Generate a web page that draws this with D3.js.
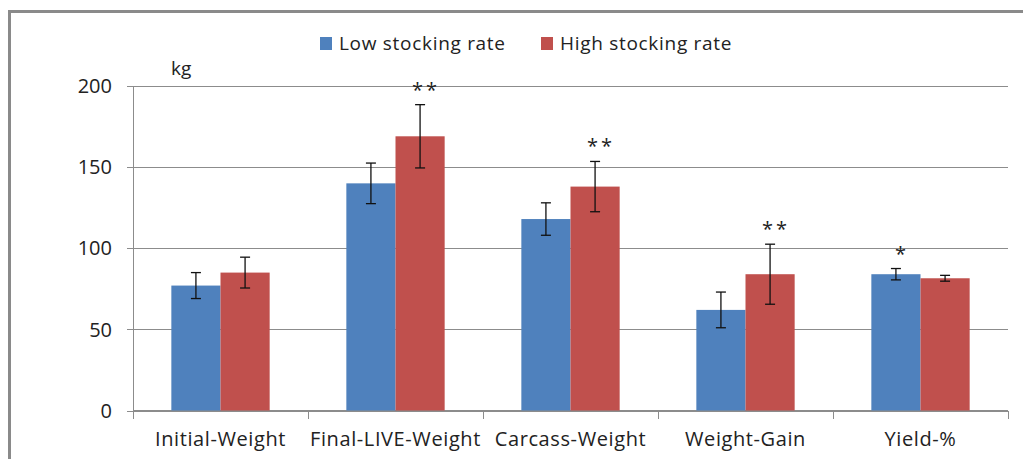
<!DOCTYPE html>
<html>
<head>
<meta charset="utf-8">
<script src="https://cdn.jsdelivr.net/npm/d3@7"></script>
<style>
  html, body { margin: 0; padding: 0; background: #fff; }
  svg { display: block; font-family: "Open Sans", "Liberation Sans", sans-serif; }
</style>
</head>
<body>
<svg id="chart" width="1023" height="459"></svg>
<script>
// Carcass traits under two stocking rates (means ± SD)
const categories = ["Initial-Weight", "Final-LIVE-Weight", "Carcass-Weight", "Weight-Gain", "Yield-%"];
const seriesNames = ["Low stocking rate", "High stocking rate"];
const lowValues  = [77, 140, 118, 62, 84];
const lowErrors  = [8, 12.5, 10, 11, 3.5];
const highValues = [85, 169, 138, 84, 81.5];
const highErrors = [9.5, 19.5, 15.5, 18.5, 1.8];
// significance marks: [category index, series index, label]
const marks = [[1, 1, "**"], [2, 1, "**"], [3, 1, "**"], [4, 0, "*"]];
const yTicks = [0, 50, 100, 150, 200];
const yUnit = "kg";

const colors = ["#4F81BD", "#C0504D"];
const svg = d3.select("#chart");

const margin = { left: 133, right: 1008, top: 86, bottom: 410.5 };

// outer frame
svg.append("rect")
  .attr("x", 9.5).attr("y", 11.5)
  .attr("width", 1100).attr("height", 600)
  .attr("fill", "#fff").attr("stroke", "#8a8a8a").attr("stroke-width", 3);

const x = d3.scaleBand().domain(categories).range([margin.left, margin.right]).paddingInner(0).paddingOuter(0);
const xInner = d3.scaleBand().domain([0, 1]).range([0, x.bandwidth()]).paddingInner(0).paddingOuter(0.78);
const y = d3.scaleLinear().domain([0, 200]).range([margin.bottom, margin.top]);

// horizontal gridlines
const yAxis = d3.axisLeft(y).tickValues(yTicks).tickSize(-(margin.right - margin.left)).tickPadding(0).tickFormat("");
const gy = svg.append("g").attr("transform", `translate(${margin.left},0)`).call(yAxis);
gy.select(".domain").remove();
gy.selectAll(".tick line").attr("stroke", "#8c8c8c").attr("stroke-width", 1).attr("x1", -6).attr("shape-rendering", "crispEdges");

// tick labels
svg.append("g").selectAll("text").data(yTicks).join("text")
  .attr("x", margin.left - 21).attr("y", d => y(d))
  .attr("dy", "0.36em").attr("text-anchor", "end")
  .attr("font-size", 20).attr("fill", "#222")
  .text(d => d);

// y axis line
svg.append("line")
  .attr("x1", margin.left).attr("x2", margin.left)
  .attr("y1", margin.top).attr("y2", margin.bottom + 8)
  .attr("stroke", "#8c8c8c").attr("stroke-width", 1).attr("shape-rendering", "crispEdges");

// x axis with boundary ticks
const gx = svg.append("g").attr("transform", `translate(0,${margin.bottom})`);
gx.append("line").attr("x1", margin.left).attr("x2", margin.right)
  .attr("stroke", "#8c8c8c").attr("shape-rendering", "crispEdges");
gx.selectAll("line.bt").data(categories).join("line")
  .attr("class", "bt")
  .attr("x1", d => x(d) + x.bandwidth())
  .attr("x2", d => x(d) + x.bandwidth())
  .attr("y1", 0).attr("y2", 8)
  .attr("stroke", "#8c8c8c").attr("shape-rendering", "crispEdges");
gx.selectAll("text").data(categories).join("text")
  .attr("x", d => x(d) + x.bandwidth() / 2).attr("y", 35)
  .attr("text-anchor", "middle").attr("font-size", 20).attr("letter-spacing", 0.6)
  .attr("fill", "#222")
  .text(d => d);

// unit label
svg.append("text").attr("x", 171).attr("y", 75).attr("font-size", 19).attr("fill", "#222").text(yUnit);

// bars
const series = [lowValues, highValues];
const errs = [lowErrors, highErrors];
const rows = [];
categories.forEach((c, i) => {
  [0, 1].forEach(s => rows.push({ c, i, s, v: series[s][i], e: errs[s][i] }));
});

const gBars = svg.append("g");
gBars.selectAll("rect").data(rows).join("rect")
  .attr("x", d => x(d.c) + xInner(d.s))
  .attr("width", xInner.bandwidth())
  .attr("y", d => y(d.v))
  .attr("height", d => y(0) - y(d.v))
  .attr("fill", d => colors[d.s]);

// error bars
const cx = d => x(d.c) + xInner(d.s) + xInner.bandwidth() / 2;
const gErr = svg.append("g").attr("stroke", "#111").attr("stroke-width", 1.3);
gErr.selectAll("line.v").data(rows).join("line").attr("class", "v")
  .attr("x1", cx).attr("x2", cx)
  .attr("y1", d => y(d.v + d.e)).attr("y2", d => y(d.v - d.e));
gErr.selectAll("line.t").data(rows).join("line").attr("class", "t")
  .attr("x1", d => cx(d) - 5).attr("x2", d => cx(d) + 5)
  .attr("y1", d => y(d.v + d.e)).attr("y2", d => y(d.v + d.e));
gErr.selectAll("line.b").data(rows).join("line").attr("class", "b")
  .attr("x1", d => cx(d) - 5).attr("x2", d => cx(d) + 5)
  .attr("y1", d => y(d.v - d.e)).attr("y2", d => y(d.v - d.e));

// significance marks above error bars
svg.append("g").selectAll("text").data(marks).join("text")
  .attr("x", m => cx({ c: categories[m[0]], s: m[1] }) + 6)
  .attr("y", m => y(series[m[1]][m[0]] + errs[m[1]][m[0]]) - 8)
  .attr("text-anchor", "middle").attr("font-size", 20).attr("letter-spacing", 3)
  .attr("fill", "#222")
  .text(m => m[2]);

// legend
const legend = svg.append("g");
const legendX = [320, 541];
seriesNames.forEach((n, s) => {
  legend.append("rect").attr("x", legendX[s]).attr("y", 37).attr("width", 12).attr("height", 13).attr("fill", colors[s]);
  legend.append("text").attr("x", legendX[s] + 19).attr("y", 50)
    .attr("font-size", 19).attr("letter-spacing", 0.7).attr("fill", "#222").text(n);
});
</script>
</body>
</html>
